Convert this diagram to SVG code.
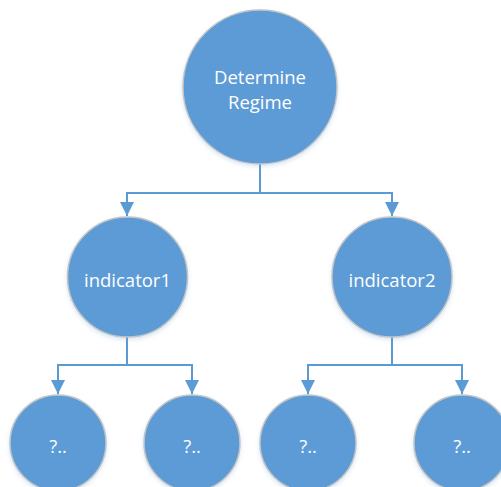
<svg xmlns="http://www.w3.org/2000/svg" width="501" height="487" viewBox="0 0 501 487">
  <style>
    .node circle { fill: #5B9BD5; stroke: #C4C4C4; stroke-width: 1.5; filter: url(#sh); }
    .node text { fill: #FFFFFF; font-family: "Open Sans", "Liberation Sans", sans-serif; font-size: 18.5px; text-anchor: middle; dominant-baseline: central; }
    .conn path { fill: none; stroke: #5B9BD5; stroke-width: 2; marker-end: url(#arr); }
    .conn line { stroke: #5B9BD5; stroke-width: 2; }
  </style>
  <defs>
    <marker id="arr" viewBox="0 0 10 10" refX="10" refY="5" markerWidth="7" markerHeight="7" orient="auto" markerUnits="strokeWidth">
      <path d="M0,0 L10,5 L0,10 Z" fill="#5B9BD5"/>
    </marker>
    <filter id="sh" x="-20%" y="-20%" width="140%" height="140%">
      <feDropShadow dx="0" dy="2" stdDeviation="2" flood-color="#5B9BD5" flood-opacity="0.25"/>
    </filter>
  </defs>
  <rect width="501" height="487" fill="#FFFFFF"/>
  <g class="conn">
    <line x1="260" y1="164" x2="260" y2="193"/>
    <path d="M260,193 H127 V216"/>
    <path d="M260,193 H392 V216"/>
    <line x1="127" y1="337" x2="127" y2="365"/>
    <path d="M127,365 H58 V394"/>
    <path d="M127,365 H192 V394"/>
    <line x1="392" y1="337" x2="392" y2="365"/>
    <path d="M392,365 H308 V394"/>
    <path d="M392,365 H462 V394"/>
  </g>
  <g id="determine-regime" class="node">
    <circle cx="260" cy="87" r="77"/>
    <text x="260" y="76">Determine</text>
    <text x="260" y="101">Regime</text>
  </g>
  <g id="indicator1" class="node">
    <circle cx="127.5" cy="277" r="60"/>
    <text x="127.5" y="279">indicator1</text>
  </g>
  <g id="indicator2" class="node">
    <circle cx="392" cy="277" r="60"/>
    <text x="392" y="279">indicator2</text>
  </g>
  <g id="leaf1" class="node">
    <circle cx="58" cy="443" r="48"/>
    <text x="58" y="445">?..</text>
  </g>
  <g id="leaf2" class="node">
    <circle cx="192" cy="443" r="48"/>
    <text x="192" y="445">?..</text>
  </g>
  <g id="leaf3" class="node">
    <circle cx="308" cy="443" r="48"/>
    <text x="308" y="445">?..</text>
  </g>
  <g id="leaf4" class="node">
    <circle cx="462" cy="443" r="48"/>
    <text x="462" y="445">?..</text>
  </g>
</svg>
